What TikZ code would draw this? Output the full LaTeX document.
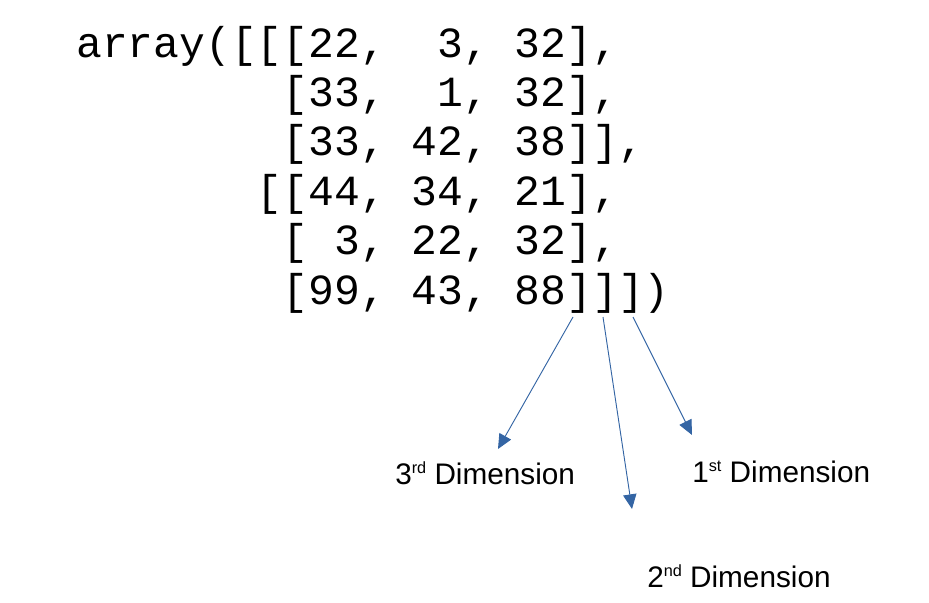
\documentclass[tikz,border=0pt]{standalone}
\usepackage{fontspec}
\setmainfont{Liberation Sans}
\setmonofont{Liberation Mono}
\usetikzlibrary{arrows.meta}
\definecolor{arrowblue}{RGB}{52,101,164}
\newcommand\dimsup[1]{\raisebox{8pt}{\fontsize{12.2}{13}\selectfont #1}}

\begin{document}
\begin{tikzpicture}[x=0.75pt,y=-0.75pt,
    code/.style={anchor=base west, inner sep=0pt, font=\ttfamily\fontsize{32.25}{37}\selectfont},
    dimlabel/.style={anchor=base west, inner sep=0pt, font=\fontsize{22.3}{26}\selectfont},
    dimarrow/.style={draw=arrowblue, line width=0.7pt, -{Triangle[length=11pt,width=10pt]}}]
    \useasboundingbox (0,0) rectangle (929,603);
    % Define the character width and the line distance
    \def\charwidth{25.8}
    \def\linedist{49.4}
    \def\codex{76}
    \def\codey{57}

    % Draw the array
    \node[code] (row1) at (\codex,\codey) {array([[[22,~~3,~32],};
    \node[code] (row2) at (\codex+8*\charwidth,\codey+\linedist) {[33,~~1,~32],};
    \node[code] (row3) at (\codex+8*\charwidth,\codey+2*\linedist) {[33,~42,~38]],};
    \node[code] (row4) at (\codex+7*\charwidth,\codey+3*\linedist) {[[44,~34,~21],};
    \node[code] (row5) at (\codex+8*\charwidth,\codey+4*\linedist) {[~3,~22,~32],};
    \node[code] (row6) at (\codex+8*\charwidth,\codey+5*\linedist) {[99,~43,~88]]])};

    % Add the dimension labels
    \node[dimlabel] (third) at (395,484) {3\dimsup{rd} Dimension};
    \node[dimlabel] (first) at (692,482) {1\dimsup{st} Dimension};
    \node[dimlabel] (second) at (647,587) {2\dimsup{nd} Dimension};

    % Arrows from the closing brackets
    \coordinate (start3) at (573,317);
    \coordinate (start2) at (603,317);
    \coordinate (start1) at (633,317);
    \coordinate (tip3) at (498,449);
    \coordinate (tip2) at (632,509);
    \coordinate (tip1) at (692,435);
    \draw[dimarrow] (start3) -- (tip3);
    \draw[dimarrow] (start2) -- (tip2);
    \draw[dimarrow] (start1) -- (tip1);
\end{tikzpicture}
\end{document}
